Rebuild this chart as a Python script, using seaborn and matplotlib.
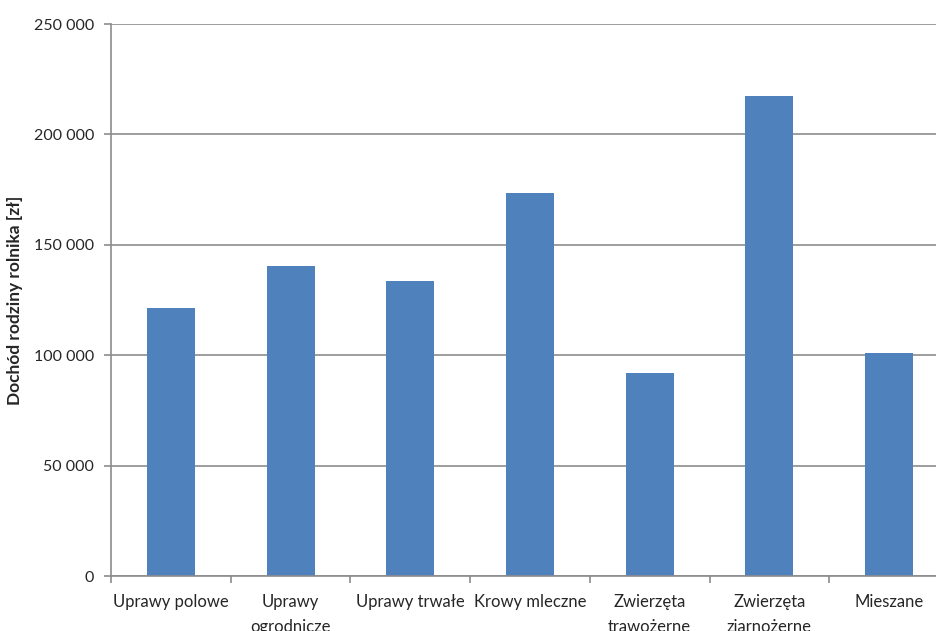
import numpy as np
import pandas as pd
import matplotlib
matplotlib.use('Agg')
import matplotlib.pyplot as plt
import seaborn as sns
from matplotlib.ticker import FuncFormatter, FixedLocator

categories = ['Uprawy polowe', 'Uprawy\nogrodnicze', 'Uprawy trwałe', 'Krowy mleczne',
              'Zwierzęta\ntrawożerne', 'Zwierzęta\nziarnożerne', 'Mieszane']
income = [121500, 140500, 133700, 173600, 92000, 217300, 101100]

df = pd.DataFrame({'typ': categories, 'dochod': income})

sns.set_style('white')
plt.rcParams['font.family'] = ['Lato', 'DejaVu Sans']

fig = plt.figure(figsize=(9.37, 6.31), dpi=100)
ax = fig.add_axes([111 / 937, 1 - 576 / 631, 838 / 937, 552 / 631])

sns.barplot(data=df, x='typ', y='dochod', color='#4F81BD', saturation=1, width=0.4,
            linewidth=0, ax=ax)

ax.set_ylim(0, 250000)
ax.set_xlim(-0.5, len(categories) - 0.5)
ax.set_yticks(np.arange(0, 250001, 50000))
ax.yaxis.set_major_formatter(FuncFormatter(lambda v, p: f'{int(v):,}'.replace(',', ' ')))
ax.grid(axis='y', color='#8c8c8c', linewidth=1.2)
ax.set_axisbelow(True)

for s in ['top', 'right']:
    ax.spines[s].set_visible(False)
for s in ['left', 'bottom']:
    ax.spines[s].set_color('#8c8c8c')
    ax.spines[s].set_linewidth(1.2)

ax.tick_params(axis='y', length=5, color='#8c8c8c', width=1.2, labelsize=11.5, pad=7, left=True)
ax.tick_params(axis='x', which='major', length=0, labelsize=12, pad=13)
ax.xaxis.set_minor_locator(FixedLocator(np.arange(-0.5, len(categories), 1.0)))
ax.tick_params(axis='x', which='minor', length=5, color='#8c8c8c', width=1.2, bottom=True)
for lab in ax.get_xticklabels():
    lab.set_linespacing(1.7)

ax.set_xlabel('')
ax.set_ylabel('Dochód rodziny rolnika [zł]', fontsize=12.5, fontweight='bold', labelpad=8)

fig.savefig('out.png', dpi=100)
